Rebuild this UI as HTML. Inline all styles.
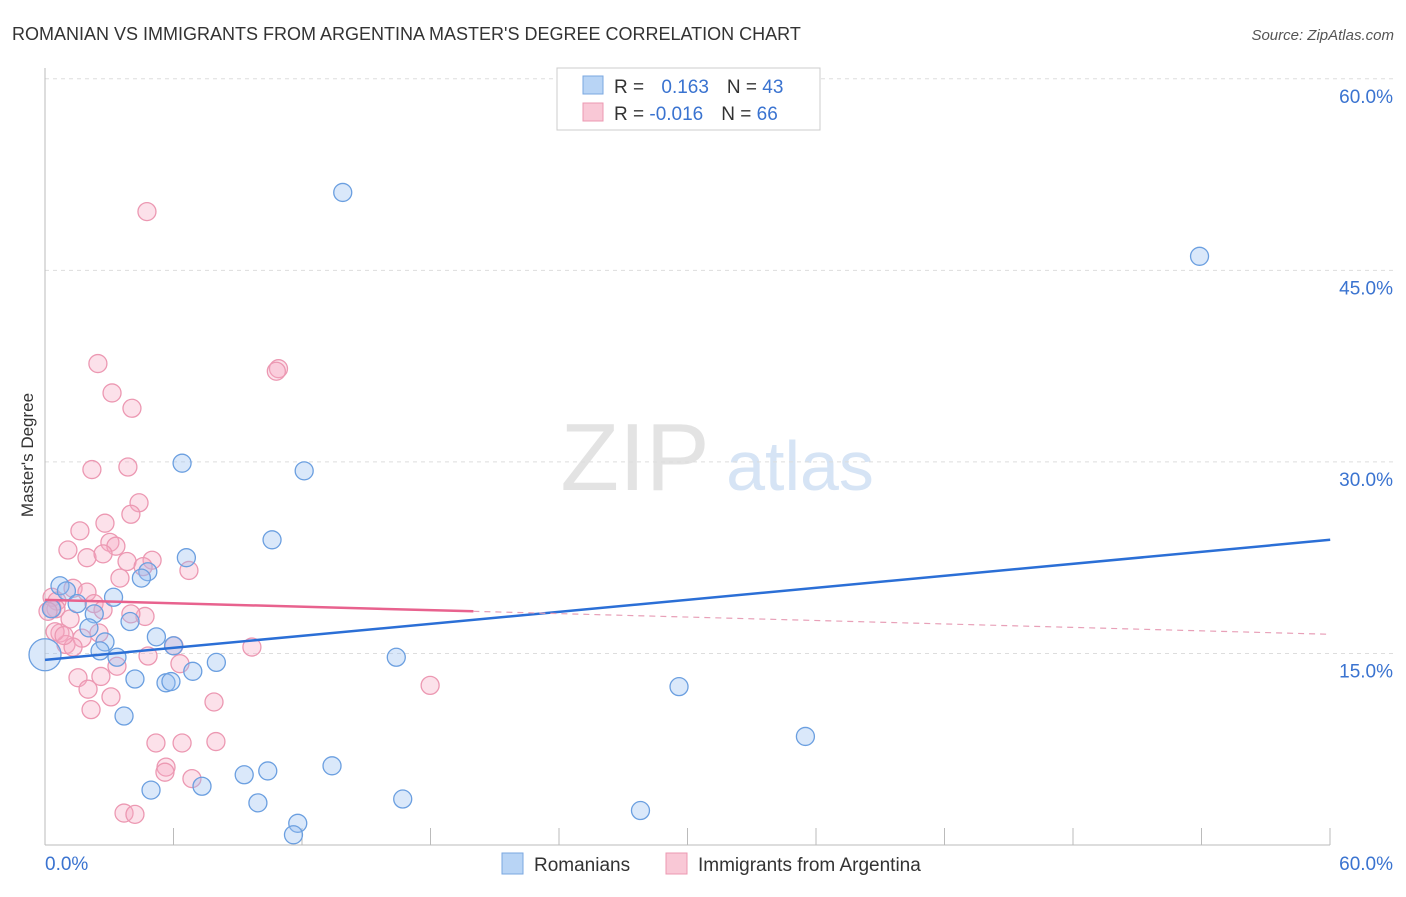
<!DOCTYPE html>
<html><head><meta charset="utf-8"><style>
body{margin:0;background:#fff;font-family:"Liberation Sans",sans-serif}
svg text{font-family:"Liberation Sans",sans-serif}
</style></head><body>
<svg id="chart" width="1406" height="892" xmlns="http://www.w3.org/2000/svg">
<text x="12" y="40" font-size="18" fill="#333">ROMANIAN VS IMMIGRANTS FROM ARGENTINA MASTER'S DEGREE CORRELATION CHART</text>
<text x="1394" y="40" font-size="15" fill="#555" font-style="italic" text-anchor="end">Source: ZipAtlas.com</text>
<text transform="translate(33,455) rotate(-90)" font-size="17" fill="#333" text-anchor="middle">Master's Degree</text>
<g>
<text x="635" y="490" font-size="96" fill="#e3e3e3" font-family="Liberation Serif" text-anchor="middle">ZIP</text>
<text x="800" y="490" font-size="70" fill="#d6e4f5" text-anchor="middle">atlas</text>
</g>
<g id="grid"></g><g id="axes"></g><g id="pts"></g><g id="lines"></g>
<g>
<rect x="557" y="68" width="263" height="62" fill="#fff" stroke="#ccc"/>
<rect x="583" y="76" width="20" height="18" fill="#b8d4f5" stroke="#7aa7e0"/>
<rect x="583" y="103" width="20" height="18" fill="#f9c8d6" stroke="#ec98b2"/>
<text x="614" y="93" font-size="19" fill="#333">R = <tspan fill="#3a73d0" dx="12">0.163</tspan><tspan dx="18">N = </tspan><tspan fill="#3a73d0">43</tspan></text>
<text x="614" y="120" font-size="19" fill="#333">R = <tspan fill="#3a73d0">-0.016</tspan><tspan dx="18">N = </tspan><tspan fill="#3a73d0">66</tspan></text>
</g>
<g>
<rect x="502" y="853" width="21" height="21" fill="#b8d4f5" stroke="#7aa7e0"/>
<text x="534" y="871" font-size="19" fill="#333">Romanians</text>
<rect x="666" y="853" width="21" height="21" fill="#f9c8d6" stroke="#ec98b2"/>
<text x="698" y="871" font-size="19" fill="#333">Immigrants from Argentina</text>
</g>
</svg>
<script>
const NS="http://www.w3.org/2000/svg";
const yTicks=[15,30,45,60];
const yTickLabels=["15.0%","30.0%","45.0%","60.0%"];
const xLabels=["0.0%","60.0%"];
const blueX=[13.9,53.9,6.4,12.1,10.6,6.6,4.8,4.5,0.7,1.0,3.2,1.5,0.3,2.3,3.97,2.05,2.8,5.2,6.0,0.0,2.57,3.36,16.4,8.0,6.9,4.2,5.65,5.88,29.6,3.69,35.5,13.4,10.4,9.3,7.33,4.95,9.94,16.7,27.8,11.8,11.6];
const blueY=[51.1,46.1,29.9,29.3,23.9,22.5,21.4,20.9,20.3,19.9,19.4,18.9,18.5,18.1,17.5,17.0,15.9,16.3,15.6,14.9,15.2,14.7,14.7,14.3,13.6,13.0,12.7,12.8,12.4,10.1,8.5,6.2,5.8,5.5,4.6,4.3,3.3,3.6,2.7,1.7,0.8];
const pinkX=[4.76,2.47,3.13,4.06,10.9,10.8,2.19,3.87,4.39,4.01,1.63,2.8,1.07,1.96,3.03,3.31,2.71,3.83,5.0,4.58,6.72,3.5,1.31,1.96,0.33,0.56,2.29,0.51,2.71,4.67,4.01,0.7,2.52,1.73,0.98,1.31,6.02,9.66,1.17,4.81,6.3,3.36,1.54,2.61,17.98,2.01,3.08,7.89,2.15,5.18,6.4,7.98,5.65,5.6,6.86,3.69,4.2,0.33,0.14,0.47,0.89];
const pinkY=[49.6,37.7,35.4,34.2,37.3,37.1,29.4,29.6,26.8,25.9,24.6,25.2,23.1,22.5,23.7,23.4,22.8,22.2,22.3,21.8,21.5,20.9,20.1,19.8,19.4,19.1,18.9,18.5,18.4,17.9,18.1,16.6,16.6,16.2,15.7,15.5,15.6,15.5,17.7,14.8,14.2,14.0,13.1,13.2,12.5,12.2,11.6,11.2,10.6,7.99,7.99,8.1,6.1,5.7,5.2,2.5,2.4,18.5,18.3,16.7,16.4];
const blueLine=[14.5,23.9];
const pinkLine=[19.2,16.5];
const sx=v=>45+v*21.42, sy=v=>845-v*12.77;
function mk(tag,a,p){const e=document.createElementNS(NS,tag);for(const k in a)e.setAttribute(k,a[k]);document.getElementById(p).appendChild(e);return e;}
yTicks.forEach((t,i)=>{
 const g=mk("line",{x1:45,x2:1394,y1:sy(t),y2:sy(t),stroke:"#ddd","stroke-dasharray":"4,4"},"grid");
 
 
 const l=mk("text",{x:1393,y:sy(t)+24,"font-size":19,fill:"#3a73d0","text-anchor":"end"},"axes");
 l.textContent=yTickLabels[i];
 
 
});
mk("line",{x1:45,x2:45,y1:68,y2:845,stroke:"#bbb"},"axes");
mk("line",{x1:45,x2:1330,y1:845,y2:845,stroke:"#bbb"},"axes");
for(let i=0;i<=10;i++){const x=45+i*128.5;mk("line",{x1:x,x2:x,y1:828,y2:845,stroke:"#bbb"},"axes");}
[[45,"start",xLabels[0]],[1393,"end",xLabels[1]]].forEach(([x,a,t])=>{const e=mk("text",{x:x,y:870,"font-size":19,fill:"#3a73d0","text-anchor":a},"axes");e.textContent=t;
 
 });
pinkX.forEach((x,i)=>{const c=mk("circle",{cx:sx(x),cy:sy(pinkY[i]),r:9,fill:"rgba(246,170,195,0.35)",stroke:"#ec98b2","stroke-width":1.3},"pts");
 
 });
blueX.forEach((x,i)=>{const c=mk("circle",{cx:sx(x),cy:sy(blueY[i]),r:i==19?16:9,fill:"rgba(150,190,240,0.35)",stroke:"#6b9fe0","stroke-width":1.3},"pts");
 
 });
const bl=mk("line",{x1:sx(0),y1:sy(blueLine[0]),x2:sx(60),y2:sy(blueLine[1]),stroke:"#2b6fd6","stroke-width":2.5},"lines");


const pm=v=>pinkLine[0]+(pinkLine[1]-pinkLine[0])*v/60;
const pl=mk("line",{x1:sx(0),y1:sy(pm(0)),x2:sx(20),y2:sy(pm(20)),stroke:"#e8628e","stroke-width":2.5},"lines");


const pd=mk("line",{x1:sx(20),y1:sy(pm(20)),x2:sx(60),y2:sy(pm(60)),stroke:"#e8a0b8","stroke-width":1.2,"stroke-dasharray":"6,5"},"lines");


</script>
</body></html>
